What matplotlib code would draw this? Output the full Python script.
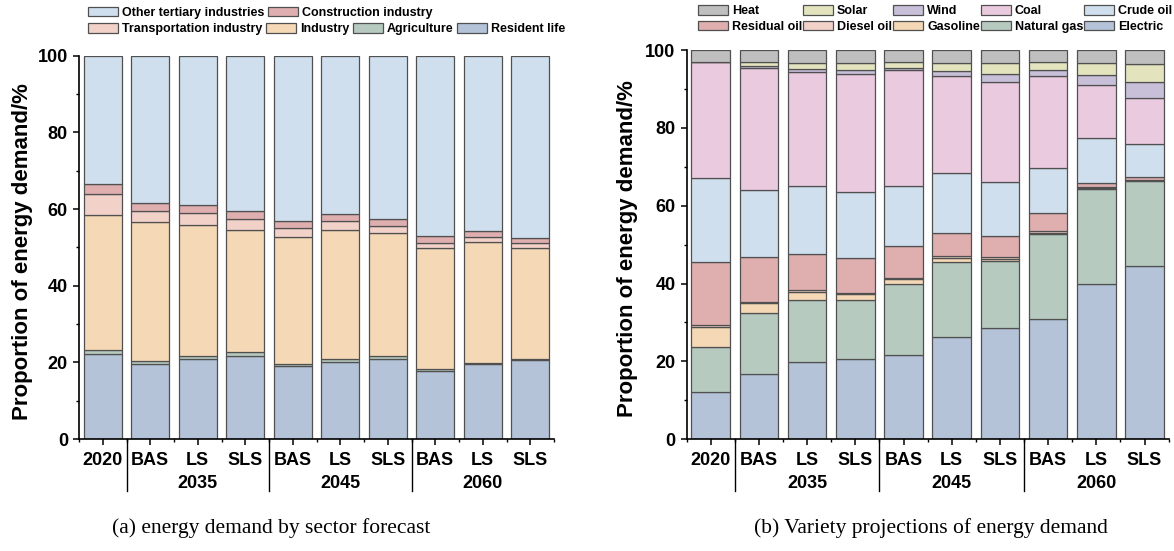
import numpy as np
import matplotlib
matplotlib.use("Agg")
import matplotlib.pyplot as plt
from matplotlib.transforms import blended_transform_factory

plt.rcParams['font.family'] = ['Liberation Sans', 'DejaVu Sans']
plt.rcParams['font.weight'] = 'bold'
plt.rcParams['axes.labelweight'] = 'bold'

# ---- categories -----------------------------------------------------------
tick_labels = ["2020", "BAS", "LS", "SLS", "BAS", "LS", "SLS", "BAS", "LS", "SLS"]
group_labels = ["2035", "2045", "2060"]
group_centers = [2, 5, 8]
group_separators = [0.5, 3.5, 6.5]

# ---- (a) energy demand by sector, % (bottom -> top) -----------------------
resident_life = [22.3, 19.6, 20.8, 21.6, 19.0, 20.2, 21.0, 17.7, 19.6, 20.5]
agriculture = [0.8, 0.7, 0.9, 1.0, 0.5, 0.7, 0.7, 0.5, 0.3, 0.5]
industry = [35.4, 36.2, 34.1, 32.0, 33.3, 33.7, 32.0, 31.6, 31.6, 28.8]
transportation = [5.5, 3.1, 3.1, 2.8, 2.2, 2.4, 2.0, 1.4, 1.3, 1.3]
construction = [2.5, 2.1, 2.1, 2.0, 2.0, 1.8, 1.7, 1.8, 1.4, 1.3]
other_tertiary = [33.5, 38.3, 39.0, 40.6, 43.0, 41.2, 42.6, 47.0, 45.8, 47.6]

# ---- (b) energy demand by variety, % (bottom -> top) ----------------------
electric = [12.0, 16.7, 19.7, 20.5, 21.7, 26.3, 28.5, 30.8, 39.8, 44.5]
natural_gas = [11.7, 15.8, 16.1, 15.2, 18.1, 19.2, 17.2, 21.9, 24.5, 21.9]
gasoline = [5.0, 2.4, 2.1, 1.5, 1.3, 1.1, 0.7, 0.4, 0.3, 0.1]
diesel_oil = [0.6, 0.3, 0.5, 0.4, 0.2, 0.6, 0.4, 0.3, 0.2, 0.1]
residual_oil = [16.3, 11.5, 9.1, 8.9, 8.4, 5.7, 5.4, 4.8, 1.1, 0.7]
crude_oil = [21.6, 17.3, 17.7, 17.1, 15.4, 15.4, 13.8, 11.6, 11.4, 8.5]
coal = [29.7, 31.5, 29.3, 30.2, 29.7, 25.2, 25.9, 23.7, 13.8, 12.0]
wind = [0.1, 0.4, 0.7, 1.2, 0.7, 1.1, 2.1, 1.3, 2.5, 4.0]
solar = [0.1, 1.1, 1.6, 1.8, 1.5, 2.1, 2.6, 2.1, 3.0, 4.7]
heat = [2.9, 3.0, 3.2, 3.2, 3.0, 3.3, 3.4, 3.1, 3.4, 3.5]

C_BLUE = "#b4c3d7"
C_GREEN = "#b6cac0"
C_ORANGE = "#f5d8b6"
C_PINK = "#f2d1c9"
C_RED = "#dfaeae"
C_LBLUE = "#d0dfee"
C_COAL = "#eacade"
C_WIND = "#c8bfd9"
C_SOLAR = "#e3e4be"
C_HEAT = "#bfbfbf"
EDGE = "#505050"

sector_series = [
    ("Resident life", resident_life, C_BLUE),
    ("Agriculture", agriculture, C_GREEN),
    ("Industry", industry, C_ORANGE),
    ("Transportation industry", transportation, C_PINK),
    ("Construction industry", construction, C_RED),
    ("Other tertiary industries", other_tertiary, C_LBLUE),
]
variety_series = [
    ("Electric", electric, C_BLUE),
    ("Natural gas", natural_gas, C_GREEN),
    ("Gasoline", gasoline, C_ORANGE),
    ("Diesel oil", diesel_oil, C_PINK),
    ("Residual oil", residual_oil, C_RED),
    ("Crude oil", crude_oil, C_LBLUE),
    ("Coal", coal, C_COAL),
    ("Wind", wind, C_WIND),
    ("Solar", solar, C_SOLAR),
    ("Heat", heat, C_HEAT),
]

W, H, DPI = 11.74, 5.51, 100
fig = plt.figure(figsize=(W, H), dpi=DPI)
ax1 = fig.add_axes([79 / 1174, 1 - 439 / 551, 475 / 1174, (439 - 55.7) / 551])
ax2 = fig.add_axes([686.6 / 1174, 1 - 439 / 551, 482 / 1174, (439 - 50.25) / 551])


def stacked(ax, series):
    x = np.arange(len(tick_labels))
    bottom = np.zeros(len(x))
    handles = {}
    for name, vals, col in series:
        bars = ax.bar(x, vals, 0.8, bottom=bottom, color=col, edgecolor=EDGE,
                      linewidth=0.9, label=name, zorder=2)
        bottom += np.asarray(vals)
        handles[name] = bars
    return handles


def style(ax, label_x):
    x = np.arange(len(tick_labels))
    ax.set_xlim(-0.5, 9.5)
    ax.set_ylim(0, 100)
    for s in ("top", "right"):
        ax.spines[s].set_visible(False)
    for s in ("left", "bottom"):
        ax.spines[s].set_linewidth(1.2)
    ax.set_xticks(x)
    ax.set_xticklabels(tick_labels)
    ax.set_xticks(np.arange(-0.5, 10, 1), minor=True)
    ax.set_yticks(range(0, 101, 20))
    ax.set_yticks(range(10, 100, 20), minor=True)
    ax.tick_params(which="major", length=4.5, width=1.1, labelsize=13,
                   direction="out", pad=3.5)
    ax.tick_params(axis="x", which="major", pad=5)
    ax.tick_params(which="minor", length=2.5, width=1.0, direction="out")
    ax.set_ylabel("Proportion of energy demand/%", fontsize=16)
    ax.yaxis.set_label_coords(label_x, 0.49)

    trans = blended_transform_factory(ax.transData, ax.transAxes)
    h_px = ax.get_position().height * H * DPI
    for s in group_separators:
        ax.plot([s, s], [0, -52 / h_px], transform=trans, color="black",
                lw=1.0, clip_on=False)
    for g, c in zip(group_labels, group_centers):
        ax.text(c, -45 / h_px, g, transform=trans, ha="center", va="center",
                fontsize=13, fontweight="bold")


h1 = stacked(ax1, sector_series)
h2 = stacked(ax2, variety_series)
style(ax1, -0.097)
style(ax2, -0.101)

leg_kw = dict(frameon=False, handlelength=2.4, handleheight=0.8,
              handletextpad=0.35, borderpad=0, borderaxespad=0,
              columnspacing=0.25, prop={"weight": "bold", "size": 9})

# sector legend laid out as two flowing rows
row1 = ["Other tertiary industries", "Construction industry"]
row2 = ["Transportation industry", "Industry", "Agriculture", "Resident life"]
fig.legend([h1[n] for n in row1], row1, ncol=len(row1), loc="center left",
           bbox_to_anchor=(88 / 1174, 1 - 12.8 / 551), **leg_kw)
fig.legend([h1[n] for n in row2], row2, ncol=len(row2), loc="center left",
           bbox_to_anchor=(88 / 1174, 1 - 29.0 / 551), **leg_kw)

# variety legend: five columns, two rows
order = ["Heat", "Residual oil", "Solar", "Diesel oil", "Wind", "Gasoline",
         "Coal", "Natural gas", "Crude oil", "Electric"]
leg_kw2 = dict(leg_kw)
leg_kw2["columnspacing"] = 0.1
leg_kw2["handletextpad"] = 0.3
fig.legend([h2[n] for n in order], order, ncol=5, loc="center left",
           labelspacing=0.25, bbox_to_anchor=(698 / 1174, 1 - 19.0 / 551),
           **leg_kw2)

fig.text(271 / 1174, 1 - 528 / 551, "(a) energy demand by sector forecast",
         ha="center", va="center", fontsize=15.5, fontweight="normal",
         family="Liberation Serif")
fig.text(931 / 1174, 1 - 528 / 551, "(b) Variety projections of energy demand",
         ha="center", va="center", fontsize=15.5, fontweight="normal",
         family="Liberation Serif")

fig.savefig("out.png", dpi=DPI)
